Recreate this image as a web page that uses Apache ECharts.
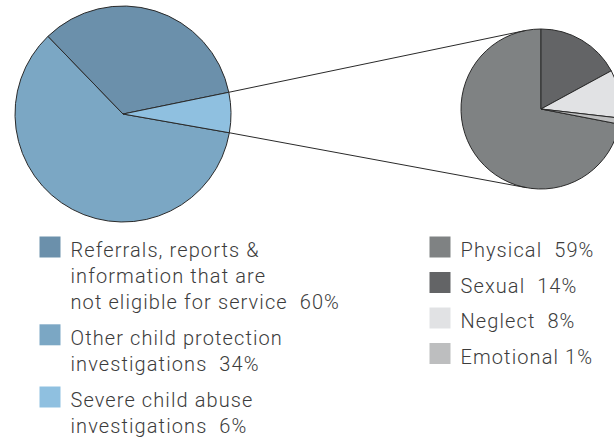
<!DOCTYPE html>
<html>
<head>
<meta charset="utf-8">
<script src="https://cdn.jsdelivr.net/npm/echarts@6/dist/echarts.min.js"></script>
<style>
  html, body { margin: 0; padding: 0; background: #ffffff; }
  #chart { width: 614px; height: 441px; }
  /* open tracking on the legend captions */
  #chart text { letter-spacing: 1.1px; }
</style>
</head>
<body>
<div id="chart"></div>
<script>
// Outcome of referrals (left pie)
const outcomeNames = [
  'Referrals, reports &\ninformation that are\nnot eligible for service',
  'Other child protection\ninvestigations',
  'Severe child abuse\ninvestigations'
];
const outcomeValues = [60, 34, 6];

// Type of abuse within the severe investigations (right pie)
const abuseNames = ['Physical', 'Sexual', 'Neglect', 'Emotional'];
const abuseValues = [59, 14, 8, 1];
const abuseSeparators = ['  ', '  ', '  ', ' '];

// Styling
const outcomeSliceColors = ['#7ba7c4', '#6b90ab', '#8fc0e0'];
const outcomeSwatchColors = ['#6b90ab', '#7ba7c4', '#8fc0e0'];
const abuseColors = ['#7f8283', '#636466', '#e1e2e4', '#bdbebf'];
const edgeColor = '#2a2a2a';
const textColor = '#3c3c3c';
const textFont = '300 20px Roboto, "Liberation Sans", sans-serif';

const bigPie = { center: [123, 114], radius: 108 };
const smallPie = { center: [541, 109], radius: 80 };

const abuseTotal = abuseValues.reduce((a, b) => a + b, 0);

const chart = echarts.init(document.getElementById('chart'), null, { renderer: 'svg' });

const pieCommon = {
  type: 'pie',
  silent: true,
  animation: false,
  clockwise: true,
  label: { show: false },
  labelLine: { show: false },
  emphasis: { disabled: true },
  itemStyle: { borderColor: edgeColor, borderWidth: 1 }
};

chart.setOption({
  backgroundColor: '#ffffff',
  animation: false,
  series: [
    Object.assign({}, pieCommon, {
      center: bigPie.center,
      radius: bigPie.radius,
      startAngle: 350,
      data: outcomeNames.map((n, i) => ({
        name: n, value: outcomeValues[i], itemStyle: { color: outcomeSliceColors[i] }
      }))
    }),
    Object.assign({}, pieCommon, {
      center: smallPie.center,
      radius: smallPie.radius,
      // physical slice sweeps round so that sexual abuse starts at 12 o'clock
      startAngle: 90 + abuseValues[0] / abuseTotal * 360,
      data: abuseNames.map((n, i) => ({
        name: n, value: abuseValues[i], itemStyle: { color: abuseColors[i] }
      }))
    })
  ]
});

// Geometry of a slice, as laid out by the pie series
function sliceLayout(seriesIndex, dataIndex) {
  const data = chart.getModel().getSeriesByIndex(seriesIndex).getData();
  return data.getItemLayout(dataIndex);
}

// Tangent point on a circle seen from an outside point
function tangentPoint(px, py, cx, cy, r, side) {
  const dx = cx - px, dy = cy - py;
  const d = Math.sqrt(dx * dx + dy * dy);
  const theta = Math.atan2(dy, dx);
  const alpha = Math.asin(r / d);
  const len = Math.sqrt(d * d - r * r);
  const a = theta + side * alpha;
  return [px + len * Math.cos(a), py + len * Math.sin(a)];
}

const graphics = [];

// Connector lines from the severe-investigation slice to the breakdown pie
const sev = sliceLayout(0, 2);
const small = sliceLayout(1, 0);
const pUpper = [sev.cx + sev.r * Math.cos(sev.startAngle), sev.cy + sev.r * Math.sin(sev.startAngle)];
const pLower = [sev.cx + sev.r * Math.cos(sev.endAngle), sev.cy + sev.r * Math.sin(sev.endAngle)];
const tUpper = tangentPoint(pUpper[0], pUpper[1], small.cx, small.cy, small.r, -1);
const tLower = tangentPoint(pLower[0], pLower[1], small.cx, small.cy, small.r, 1);
[[pUpper, tUpper], [pLower, tLower]].forEach(([p, t]) => {
  graphics.push({
    type: 'line', z: 10, silent: true,
    shape: { x1: p[0], y1: p[1], x2: t[0], y2: t[1] },
    style: { stroke: edgeColor, lineWidth: 1 }
  });
});

// Legends
const swatch = 21;
const lineH = 25.6;
function legendItem(x, baseline, color, label) {
  graphics.push({
    type: 'rect', silent: true,
    shape: { x: x, y: baseline - 18.5, width: swatch, height: swatch },
    style: { fill: color }
  });
  graphics.push({
    type: 'text', silent: true,
    x: x + 31, y: baseline - 17.5,
    style: { text: label, font: textFont, fill: textColor, lineHeight: lineH, verticalAlign: 'top', align: 'left' }
  });
}

let base = 255;
outcomeNames.forEach((n, i) => {
  legendItem(39.5, base, outcomeSwatchColors[i], n + '  ' + outcomeValues[i] + '%');
  base += n.split('\n').length * lineH + 11;
});

abuseNames.forEach((n, i) => {
  legendItem(429.5, 255 + i * 35.5, abuseColors[i], n + abuseSeparators[i] + abuseValues[i] + '%');
});

chart.setOption({ graphic: graphics });
</script>
</body>
</html>
